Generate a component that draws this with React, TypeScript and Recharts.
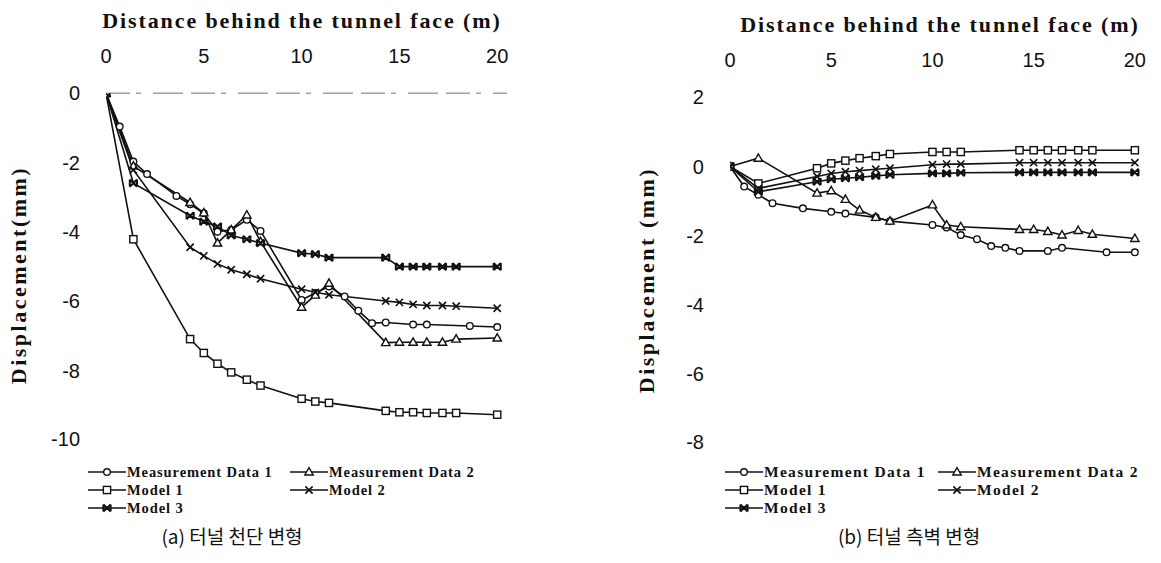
import React from 'react'
import { LineChart, Line, XAxis, YAxis } from 'recharts'

// measurement stations behind the face (m)
const stations = [0, 0.7, 1.4, 2.1, 3.6, 4.3, 5.0, 5.7, 6.4, 7.2, 7.9, 10.0, 10.7, 11.4, 12.2, 12.9, 13.6, 14.3, 15.0, 15.7, 16.4, 17.2, 17.9, 18.6, 20.0]

// (a) crown settlement
const crownMeas1 = [0, -0.96, -1.97, -2.33, -2.96, -3.2, -3.46, -3.99, -3.94, -3.65, -3.97, -5.96, -5.76, -5.57, -5.86, -6.27, -6.63, -6.61, null, -6.67, -6.67, null, null, -6.71, -6.74]
const crownMeas2 = [0, null, -2.1, null, null, -3.15, -3.45, -4.32, -3.94, -3.51, -4.28, -6.17, -5.82, -5.48, null, null, null, -7.19, -7.18, -7.18, -7.18, -7.18, -7.09, null, -7.06]
const crownModel1 = [0, null, -4.21, null, null, -7.09, -7.49, -7.8, -8.05, -8.26, -8.43, -8.81, -8.89, -8.93, null, null, null, -9.16, -9.2, -9.2, -9.22, -9.22, -9.22, null, -9.27]
const crownModel2 = [0, null, -2.21, null, null, -4.44, -4.69, -4.92, -5.09, -5.22, -5.35, -5.65, -5.74, -5.81, null, null, null, -5.99, -6.03, -6.09, -6.12, -6.12, -6.14, null, -6.2]
const crownModel3 = [0, null, -2.59, null, null, -3.53, -3.7, -3.84, -4.1, -4.21, -4.32, -4.61, -4.64, -4.74, null, null, null, -4.74, -5.0, -5.0, -5.0, -5.0, -5.0, null, -5.0]

// (b) sidewall convergence
const wallMeas1 = [0, -0.58, -0.82, -1.06, -1.21, null, -1.31, -1.36, null, -1.47, -1.58, -1.69, -1.76, -1.98, -2.1, -2.3, -2.35, -2.44, null, -2.44, -2.35, null, null, -2.48, -2.48]
const wallMeas2 = [0, null, 0.24, null, null, -0.77, -0.7, -0.95, -1.26, -1.47, -1.58, -1.11, -1.69, -1.74, null, null, null, -1.82, -1.82, -1.88, -1.98, -1.85, -1.96, null, -2.08]
const wallModel1 = [0, null, -0.49, null, null, -0.05, 0.09, 0.17, 0.24, 0.3, 0.36, 0.42, 0.42, 0.42, null, null, null, 0.47, 0.47, 0.47, 0.47, 0.47, 0.47, null, 0.47]
const wallModel2 = [0, null, -0.63, null, null, -0.29, -0.2, -0.15, -0.12, -0.08, -0.05, 0.05, 0.07, 0.07, null, null, null, 0.11, 0.11, 0.11, 0.11, 0.11, 0.11, null, 0.11]
const wallModel3 = [0, null, -0.73, null, null, -0.44, -0.37, -0.34, -0.31, -0.27, -0.24, -0.2, -0.2, -0.18, null, null, null, -0.17, -0.17, -0.17, -0.17, -0.17, -0.17, null, -0.17]

const xTicks = [0, 5, 10, 15, 20]
const crownTicks = [0, -2, -4, -6, -8, -10]
const wallTicks = [2, 0, -2, -4, -6, -8]

const seriesNames = ['Measurement Data 1', 'Measurement Data 2', 'Model 1', 'Model 2', 'Model 3']
const seriesKeys = ['m1', 'm2', 'p1', 'p2', 'p3']
const shapes = ['circle', 'triangle', 'square', 'cross', 'star']

const crownData = stations.map((x, i) => ({
  x,
  m1: crownMeas1[i],
  m2: crownMeas2[i],
  p1: crownModel1[i],
  p2: crownModel2[i],
  p3: crownModel3[i],
}))

const wallData = stations.map((x, i) => ({
  x,
  m1: wallMeas1[i],
  m2: wallMeas2[i],
  p1: wallModel1[i],
  p2: wallModel2[i],
  p3: wallModel3[i],
}))

const INK = '#111'
const SERIF = '"Liberation Serif", "Times New Roman", serif'
const SANS = '"Liberation Sans", Arial, sans-serif'
const KOREAN = '"Noto Sans CJK KR", "Noto Sans", sans-serif'

function Marker({ shape, cx, cy }: { shape: string; cx: number; cy: number }) {
  const s = 3.6
  if (shape === 'circle') return <circle cx={cx} cy={cy} r={3.3} fill="#fff" stroke={INK} strokeWidth={1.4} />
  if (shape === 'square')
    return <rect x={cx - s} y={cy - s} width={s * 2} height={s * 2} fill="#fff" stroke={INK} strokeWidth={1.4} />
  if (shape === 'triangle')
    return (
      <polygon
        points={`${cx},${cy - 4.4} ${cx - 4.2},${cy + 3} ${cx + 4.2},${cy + 3}`}
        fill="#fff"
        stroke={INK}
        strokeWidth={1.4}
      />
    )
  if (shape === 'cross')
    return (
      <path d={`M${cx - s},${cy - s}L${cx + s},${cy + s}M${cx - s},${cy + s}L${cx + s},${cy - s}`} stroke={INK} strokeWidth={1.6} />
    )
  return (
    <path
      d={`M${cx - s},${cy - s}L${cx + s},${cy + s}M${cx - s},${cy + s}L${cx + s},${cy - s}M${cx - s},${cy - s}L${cx - s},${cy + s}M${cx + s},${cy - s}L${cx + s},${cy + s}`}
      stroke={INK}
      strokeWidth={2}
    />
  )
}

function makeDot(shape: string) {
  return (props: any) => {
    const { cx, cy, index, value } = props
    if (cx == null || cy == null || value == null || (Array.isArray(value) && value[1] == null))
      return <g key={`d-${index}`} />
    return (
      <g key={`d-${index}`}>
        <Marker shape={shape} cx={cx} cy={cy} />
      </g>
    )
  }
}

function LegendBlock({
  left,
  top,
  col2,
  fontSize,
  spacing,
}: {
  left: number
  top: number
  col2: number
  fontSize: number
  spacing: number
}) {
  const rows = [
    [0, 1],
    [2, 3],
    [4],
  ]
  return (
    <div style={{ position: 'absolute', left, top }}>
      {rows.map((row, r) => (
        <div key={r} style={{ position: 'relative', height: 18 }}>
          {row.map((si, c) => (
            <div
              key={si}
              style={{
                position: 'absolute',
                left: c === 0 ? 0 : col2,
                top: 0,
                display: 'flex',
                alignItems: 'center',
                whiteSpace: 'nowrap',
              }}
            >
              <svg width={38} height={14}>
                <line x1={0} y1={7} x2={38} y2={7} stroke={INK} strokeWidth={1.4} />
                <Marker shape={shapes[si]} cx={19} cy={7} />
              </svg>
              <span
                style={{
                  fontFamily: SERIF,
                  fontWeight: 700,
                  fontSize,
                  letterSpacing: spacing,
                  color: INK,
                  marginLeft: 1,
                  lineHeight: '18px',
                }}
              >
                {seriesNames[si]}
              </span>
            </div>
          ))}
        </div>
      ))}
    </div>
  )
}

type PanelProps = {
  data: any[]
  left: number
  width: number
  marginLeft: number
  marginRight: number
  marginTop: number
  plotHeight: number
  yDomain: [number, number]
  yTicks: number[]
  showAxisLine: boolean
}

function Panel(p: PanelProps) {
  const height = p.marginTop + 30 + p.plotHeight + 10
  return (
    <div style={{ position: 'absolute', left: p.left, top: 0 }}>
      <LineChart
        width={p.width}
        height={height}
        data={p.data}
        margin={{ top: p.marginTop, right: p.marginRight, left: p.marginLeft, bottom: 10 }}
      >
        <XAxis
          dataKey="x"
          type="number"
          orientation="top"
          domain={[0, 20.5]}
          ticks={xTicks}
          height={30}
          tickLine={false}
          tickSize={0}
          tickMargin={30}
          axisLine={p.showAxisLine ? { stroke: '#a0a0a0', strokeDasharray: '24 6 5 12 30 8', strokeWidth: 1.5 } : false}
          tick={{ fontFamily: SANS, fontSize: 20, fill: INK }}
          allowDataOverflow
        />
        <YAxis
          type="number"
          domain={p.yDomain}
          ticks={p.yTicks}
          width={60}
          axisLine={false}
          tickLine={false}
          tickSize={0}
          tickMargin={26}
          tick={{ fontFamily: SANS, fontSize: 20, fill: INK }}
          allowDataOverflow
        />
        {seriesKeys.map((k, i) => (
          <Line
            key={k}
            dataKey={k}
            name={seriesNames[i]}
            type="linear"
            stroke={INK}
            strokeWidth={1.6}
            connectNulls
            dot={makeDot(shapes[i])}
            activeDot={false}
            isAnimationActive={false}
          />
        ))}
      </LineChart>
    </div>
  )
}

const textBase: React.CSSProperties = { position: 'absolute', whiteSpace: 'nowrap', color: INK }
const titleStyle: React.CSSProperties = {
  ...textBase,
  transform: 'translate(-50%, -50%)',
  fontFamily: SERIF,
  fontWeight: 700,
  fontSize: 22,
  letterSpacing: 1.9,
}
const yTitleStyle: React.CSSProperties = {
  ...textBase,
  transform: 'translate(-50%, -50%) rotate(-90deg)',
  fontFamily: SERIF,
  fontWeight: 700,
  fontSize: 22,
  letterSpacing: 2.5,
}
const captionStyle: React.CSSProperties = {
  ...textBase,
  transform: 'translate(-50%, -50%)',
  fontFamily: KOREAN,
  fontSize: 19,
}

export default function App() {
  return (
    <div style={{ position: 'relative', width: 1161, height: 563, margin: -8, background: '#fff', overflow: 'hidden' }}>
      {/* (a) crown */}
      <Panel
        data={crownData}
        left={0}
        width={560}
        marginLeft={46}
        marginRight={53}
        marginTop={63.3}
        plotHeight={346.7}
        yDomain={[-10, 0]}
        yTicks={crownTicks}
        showAxisLine
      />
      {/* (b) side wall */}
      <Panel
        data={wallData}
        left={560}
        width={601}
        marginLeft={110}
        marginRight={16}
        marginTop={67.3}
        plotHeight={346}
        yDomain={[-8, 2]}
        yTicks={wallTicks}
        showAxisLine={false}
      />

      <div style={{ ...titleStyle, left: 302, top: 21 }}>Distance behind the tunnel face (m)</div>
      <div style={{ ...titleStyle, left: 940, top: 25 }}>Distance behind the tunnel face (m)</div>

      <div style={{ ...yTitleStyle, left: 19, top: 275 }}>Displacement(mm)</div>
      <div style={{ ...yTitleStyle, left: 647, top: 280 }}>Displacement (mm)</div>

      <LegendBlock left={88} top={463} col2={202} fontSize={14.5} spacing={0.9} />
      <LegendBlock left={725} top={463} col2={213} fontSize={15.5} spacing={1.3} />

      <div style={{ ...captionStyle, left: 232, top: 535 }}>(a) 터널 천단 변형</div>
      <div style={{ ...captionStyle, left: 909, top: 535 }}>(b) 터널 측벽 변형</div>
    </div>
  )
}
